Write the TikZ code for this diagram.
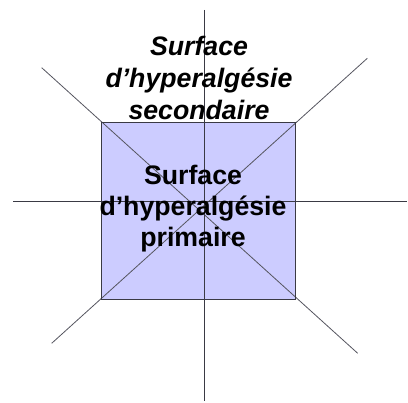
\documentclass[tikz,border=0pt]{standalone}
\usepackage{fontspec}
\setmainfont{Liberation Sans}
\usepackage{tikz}
\usetikzlibrary{positioning}
\definecolor{zonefill}{HTML}{CCCCFF}
\definecolor{axisgray}{HTML}{3A3A44}
\definecolor{raygray}{HTML}{55555F}

\begin{document}
\begin{tikzpicture}[
  x=1pt, y=-1pt,
  zone/.style={rectangle, draw=axisgray, fill=zonefill, line width=0.9pt,
               minimum width=193pt, minimum height=176pt, inner sep=0pt},
  label/.style={align=center, inner sep=0pt, font=\fontsize{26.7}{31}\selectfont\bfseries},
  axis/.style={draw=axisgray, line width=0.8pt},
  ray/.style={draw=raygray, line width=0.8pt}
]
  \useasboundingbox (0,0) rectangle (408,403);
  % surface primaire
  \node[zone, fill=zonefill, draw=none] (primaire) at (198.5,211) {};
  % bouts des droites
  \coordinate (haut) at (204.7,10);
  \coordinate (bas) at (204.7,401);
  \coordinate (gauche) at (13,201);
  \coordinate (droite) at (407,201);
  \coordinate (no) at (41.7,67.7);
  \coordinate (se) at (357.7,353.3);
  \coordinate (ne) at (367.3,58.3);
  \coordinate (so) at (51.7,343.3);
  \draw[ray] (no) -- (se);
  \draw[ray] (ne) -- (so);
  \draw[axis] (haut) -- (bas);
  \draw[axis] (gauche) -- (droite);
  \draw[axis, line width=0.9pt] (primaire.north west) rectangle (primaire.south east);
  % textes
  \node[label] (txtprim) at (193,209) {Surface\\d’hyperalgésie\\primaire};
  \node[label, font=\fontsize{26.7}{32}\selectfont\bfseries\itshape] (txtsec) at (199,78) {Surface\\d’hyperalgésie\\secondaire};
\end{tikzpicture}
\end{document}
